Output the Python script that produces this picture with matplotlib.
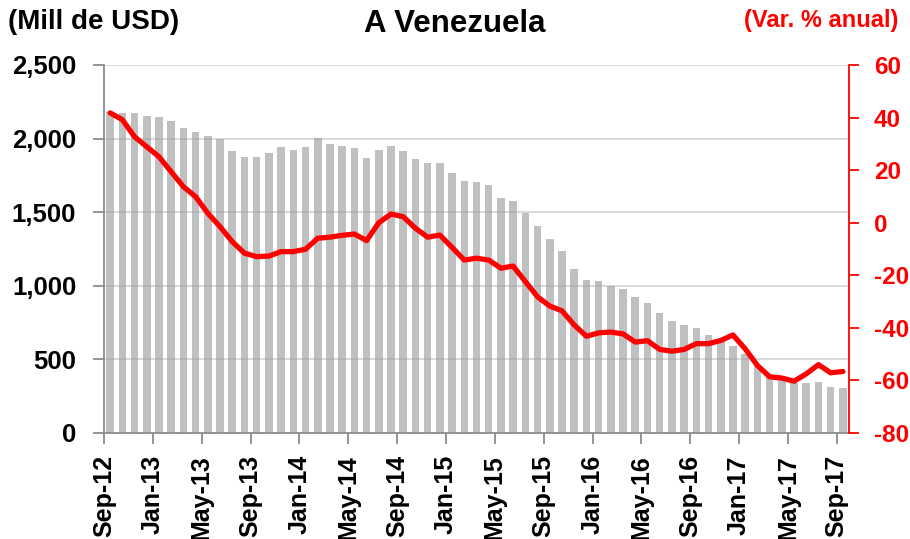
import matplotlib
matplotlib.use("Agg")
import matplotlib.pyplot as plt
import numpy as np

plt.rcParams['font.family'] = ['Liberation Sans', 'DejaVu Sans']
plt.rcParams['font.weight'] = 'bold'

# Monthly categories Sep-12 .. Sep-17
months = ['Sep-12', 'Oct-12', 'Nov-12', 'Dec-12',
          'Jan-13', 'Feb-13', 'Mar-13', 'Apr-13', 'May-13', 'Jun-13', 'Jul-13', 'Aug-13',
          'Sep-13', 'Oct-13', 'Nov-13', 'Dec-13',
          'Jan-14', 'Feb-14', 'Mar-14', 'Apr-14', 'May-14', 'Jun-14', 'Jul-14', 'Aug-14',
          'Sep-14', 'Oct-14', 'Nov-14', 'Dec-14',
          'Jan-15', 'Feb-15', 'Mar-15', 'Apr-15', 'May-15', 'Jun-15', 'Jul-15', 'Aug-15',
          'Sep-15', 'Oct-15', 'Nov-15', 'Dec-15',
          'Jan-16', 'Feb-16', 'Mar-16', 'Apr-16', 'May-16', 'Jun-16', 'Jul-16', 'Aug-16',
          'Sep-16', 'Oct-16', 'Nov-16', 'Dec-16',
          'Jan-17', 'Feb-17', 'Mar-17', 'Apr-17', 'May-17', 'Jun-17', 'Jul-17', 'Aug-17',
          'Sep-17']

# Exports level (Mill de USD), left axis
exports = [2180, 2172, 2172, 2155, 2148, 2119, 2075, 2045, 2016, 1997,
           1918, 1875, 1875, 1900, 1943, 1925, 1943, 2004, 1965, 1953,
           1934, 1870, 1922, 1947, 1916, 1864, 1832, 1832, 1766, 1712,
           1705, 1683, 1596, 1574, 1494, 1406, 1316, 1236, 1114, 1039,
           1032, 1001, 980, 922, 885, 813, 759, 734, 711, 663,
           640, 591, 540, 465, 388, 364, 342, 343, 349, 312,
           306]

# Annual % change, right axis
var_pct = [41.8, 39.2, 32.7, 28.9, 25.1, 19.4, 13.7, 9.9, 3.6, -1.5,
           -7.2, -11.6, -12.9, -12.7, -11.0, -11.0, -10.1, -5.9, -5.5, -4.8,
           -4.3, -6.8, 0.0, 3.3, 2.3, -2.1, -5.5, -4.7, -9.4, -14.2,
           -13.5, -14.2, -17.3, -16.5, -22.4, -28.2, -31.7, -33.5, -38.9, -43.2,
           -41.9, -41.6, -42.3, -45.4, -44.9, -48.2, -48.9, -48.2, -46.0, -46.0,
           -44.8, -42.7, -48.0, -54.3, -58.6, -59.1, -60.3, -57.5, -54.0, -57.1,
           -56.6]

left_ticks = [0, 500, 1000, 1500, 2000, 2500]
left_ticklabels = ['0', '500', '1,000', '1,500', '2,000', '2,500']
right_ticks = [-80, -60, -40, -20, 0, 20, 40, 60]
label_step = 4

fig = plt.figure(figsize=(9.10, 5.39), dpi=100)
ax = fig.add_axes([104/910, 1-433/539, (849-104)/910, (433-65)/539])

x = np.arange(len(months))
ax.bar(x, exports, width=0.62, color='#c0c0c0', zorder=2)
ax.set_xlim(-0.5, len(months) - 0.5)
ax.set_ylim(0, 2500)
ax.set_yticks(left_ticks)
ax.set_yticklabels(left_ticklabels)
for t in left_ticks[1:]:
    ax.axhline(t, color='#9a9a9a', alpha=0.4, lw=1.3, zorder=3)

tick_idx = list(range(0, len(months), label_step))
ax.set_xticks([i - 0.5 for i in tick_idx])
ax.set_xticklabels([months[i] for i in tick_idx], rotation=90, va='top', ha='center')

for s in ['top', 'right']:
    ax.spines[s].set_visible(False)
for s in ['left', 'bottom']:
    ax.spines[s].set_color('#8c8c8c')
    ax.spines[s].set_linewidth(1.3)
ax.tick_params(axis='y', direction='out', length=8, width=1.3, color='#8c8c8c',
               labelsize=18.5, pad=12)
ax.tick_params(axis='x', direction='out', length=8, width=1.3, color='#8c8c8c',
               labelsize=18, pad=8)

ax2 = ax.twinx()
ax2.plot(x, var_pct, color='#ff0000', lw=3.8, solid_joinstyle='round',
         solid_capstyle='round', zorder=5)
ax2.set_ylim(-80, 60)
ax2.set_yticks(right_ticks)
ax2.set_yticklabels([str(v) for v in right_ticks])
for s in ['top', 'left', 'bottom']:
    ax2.spines[s].set_visible(False)
ax2.spines['right'].set_color('#ff0000')
ax2.spines['right'].set_linewidth(1.3)
ax2.tick_params(axis='y', direction='out', length=7, width=1.3, color='#ff0000',
                labelcolor='#ff0000', labelsize=17.5, pad=11)

for lab in ax.get_xticklabels() + ax.get_yticklabels() + ax2.get_yticklabels():
    lab.set_fontweight('bold')

fig.text(8/910, 1-22/539, '(Mill de USD)', fontsize=20, fontweight='bold',
         ha='left', va='center', color='black')
fig.text(455/910, 1-24/539, 'A Venezuela', fontsize=22.5, fontweight='bold',
         ha='center', va='center', color='black')
fig.text(898/910, 1-20/539, '(Var. % anual)', fontsize=17, fontweight='bold',
         ha='right', va='center', color='#ff0000')

fig.savefig('out.png', dpi=100)
